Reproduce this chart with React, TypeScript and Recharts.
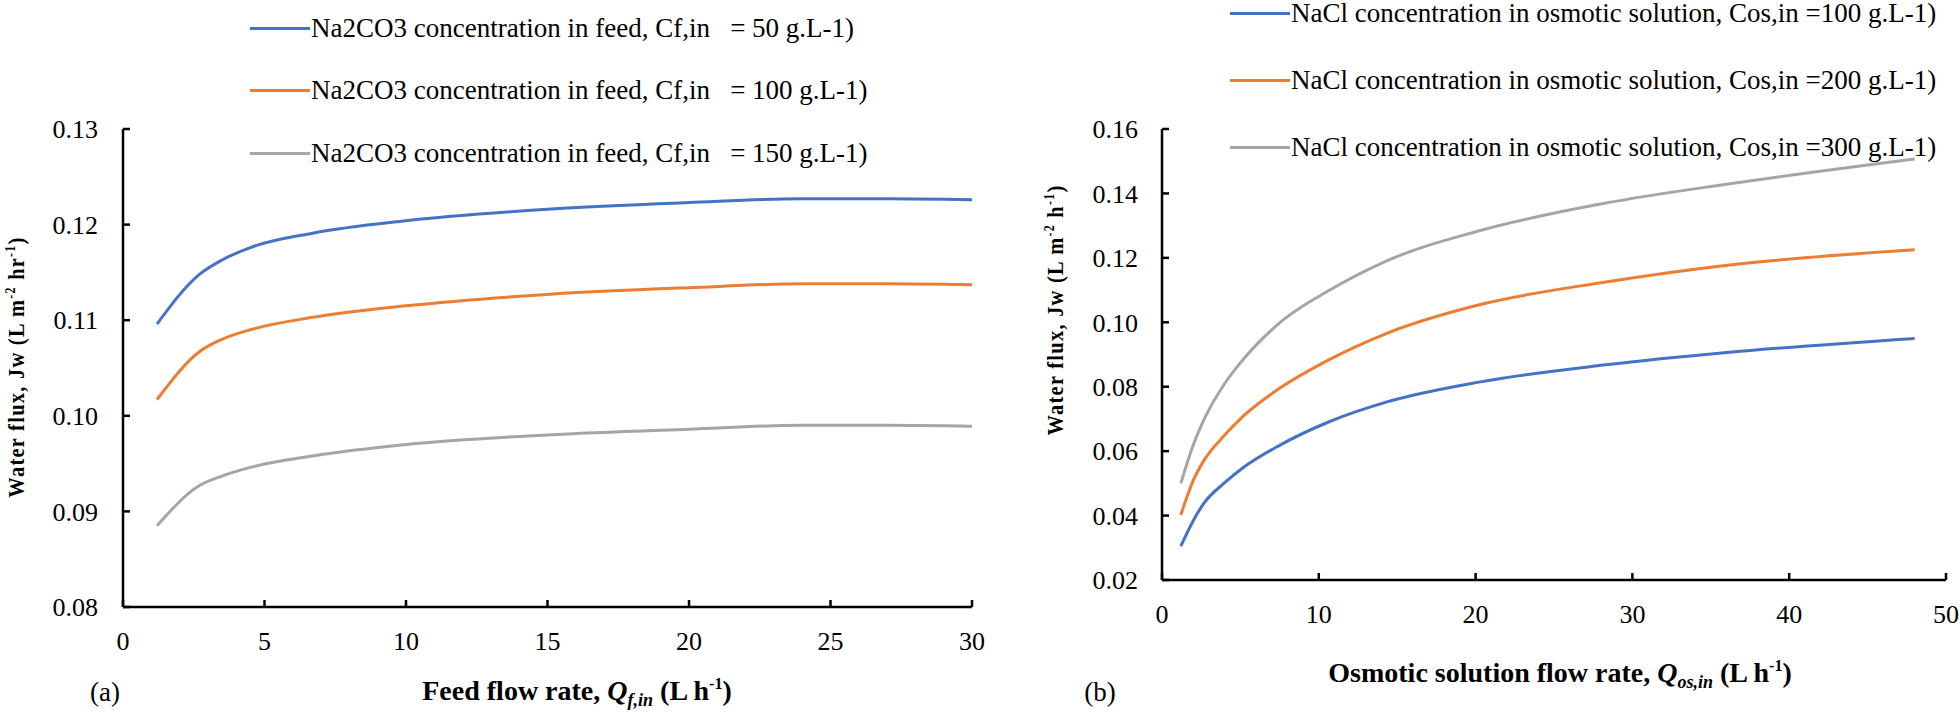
import React from "react";
import { LineChart, Line, XAxis, YAxis, Legend } from "recharts";

// (a) feed flow rate, L/h
const feedFlow = [1.2, 2.7, 3.5, 4.5, 6.7, 10, 15, 20, 24, 27, 30];
const jwFeed50 = [0.1096, 0.1148, 0.1163, 0.1176, 0.1191, 0.1204, 0.1216, 0.1223, 0.1227, 0.1227, 0.1226];
const jwFeed100 = [0.1017, 0.1067, 0.108, 0.109, 0.1103, 0.1115, 0.1127, 0.1134, 0.1138, 0.1138, 0.1137];
const jwFeed150 = [0.0885, 0.0927, 0.0937, 0.0946, 0.0958, 0.097, 0.098, 0.0986, 0.099, 0.099, 0.0989];

// (b) osmotic solution flow rate, L/h
const osFlow = [1.2, 2, 2.7, 4, 5.1, 7.5, 10.7, 14.3, 20.3, 28.3, 36.2, 48];
const jwOs100 = [0.0305, 0.0385, 0.044, 0.0502, 0.0546, 0.0618, 0.0692, 0.0752, 0.0815, 0.0868, 0.0907, 0.095];
const jwOs200 = [0.0402, 0.051, 0.0573, 0.065, 0.0705, 0.0795, 0.0885, 0.0965, 0.1055, 0.1125, 0.1178, 0.1225];
const jwOs300 = [0.05, 0.062, 0.07, 0.081, 0.088, 0.0998, 0.11, 0.119, 0.1285, 0.137, 0.143, 0.1507];

const feedTicksX = [0, 5, 10, 15, 20, 25, 30];
const feedTicksY = [0.08, 0.09, 0.1, 0.11, 0.12, 0.13];
const osTicksX = [0, 10, 20, 30, 40, 50];
const osTicksY = [0.02, 0.04, 0.06, 0.08, 0.1, 0.12, 0.14, 0.16];

const feedNames = [
  "Na2CO3 concentration in feed, Cf,in   = 50 g.L-1)",
  "Na2CO3 concentration in feed, Cf,in   = 100 g.L-1)",
  "Na2CO3 concentration in feed, Cf,in   = 150 g.L-1)",
];
const osNames = [
  "NaCl concentration in osmotic solution, Cos,in =100 g.L-1)",
  "NaCl concentration in osmotic solution, Cos,in =200 g.L-1)",
  "NaCl concentration in osmotic solution, Cos,in =300 g.L-1)",
];

const colors = ["#4472C4", "#ED7D31", "#A5A5A5"];
const FONT = "'Liberation Serif', Tinos, 'Times New Roman', 'DejaVu Serif', serif";

const feedData = feedFlow.map((q, i) => ({ q, a: jwFeed50[i], b: jwFeed100[i], c: jwFeed150[i] }));
const osData = osFlow.map((q, i) => ({ q, a: jwOs100[i], b: jwOs200[i], c: jwOs300[i] }));

const axisLine = { stroke: "#000", strokeWidth: 2.5 };
const tickStyle = { fill: "#000", fontSize: 26, fontFamily: FONT };

const makeLegend = (names: string[], rows: number[]) => (props: any) => (
  <div style={{ position: "relative", fontFamily: FONT }}>
    {(props.payload || []).map((entry: any) => {
      const i = names.indexOf(entry.value);
      return (
        <div
          key={entry.value}
          style={{
            position: "absolute",
            left: 0,
            top: rows[i] - 18,
            height: 36,
            display: "flex",
            alignItems: "center",
            whiteSpace: "pre",
          }}
        >
          <span style={{ display: "inline-block", width: 60, height: 3, background: entry.color }} />
          <span style={{ fontSize: 27, color: "#000", marginLeft: 1, fontFamily: FONT }}>{entry.value}</span>
        </div>
      );
    })}
  </div>
);

const abs = (x: number, y: number, extra: React.CSSProperties = {}): React.CSSProperties => ({
  position: "absolute",
  left: x,
  top: y,
  transform: "translate(-50%, -50%)",
  whiteSpace: "nowrap",
  fontFamily: FONT,
  color: "#000",
  ...extra,
});

// rotated axis title, squeezed along its length like the original
const yTitle = (x: number, y: number, unit: string) => (
  <div
    style={abs(x, y, {
      transform: "translate(-50%, -50%) rotate(-90deg) scaleX(0.85)",
      fontSize: 24,
      fontWeight: "bold",
      letterSpacing: 1.5,
    })}
  >
    Water flux, Jw (L m<sup style={{ fontSize: 14 }}>-2</sup> {unit}
    <sup style={{ fontSize: 14 }}>-1</sup>)
  </div>
);

export default function App() {
  return (
    <div style={{ position: "absolute", left: 0, top: 0, width: 1960, height: 712, background: "#fff", fontFamily: FONT }}>
      <div style={{ position: "absolute", left: 0, top: 0 }}>
        <LineChart width={990} height={712} data={feedData} margin={{ top: 129, right: 18, bottom: 75, left: 63 }} style={{ fontFamily: FONT }}>
          <XAxis
            dataKey="q"
            type="number"
            domain={[0, 30]}
            ticks={feedTicksX}
            interval={0}
            height={30}
            axisLine={axisLine}
            tickLine={axisLine}
            tickSize={-7}
            tickMargin={32}
            tick={tickStyle}
          />
          <YAxis
            type="number"
            domain={[0.08, 0.13]}
            ticks={feedTicksY}
            interval={0}
            width={60}
            allowDataOverflow
            axisLine={axisLine}
            tickLine={axisLine}
            tickSize={-7}
            tickMargin={32}
            tick={tickStyle}
            tickFormatter={(v: number) => v.toFixed(2)}
          />
          <Legend
            layout="horizontal"
            verticalAlign="middle"
            align="center"
            wrapperStyle={{ top: 0, left: 250, width: 720, height: 180 }}
            content={makeLegend(feedNames, [28, 90, 153])}
          />
          <Line type="monotone" dataKey="a" name={feedNames[0]} stroke={colors[0]} strokeWidth={3} dot={false} isAnimationActive={false} />
          <Line type="monotone" dataKey="b" name={feedNames[1]} stroke={colors[1]} strokeWidth={3} dot={false} isAnimationActive={false} />
          <Line type="monotone" dataKey="c" name={feedNames[2]} stroke={colors[2]} strokeWidth={3} dot={false} isAnimationActive={false} />
        </LineChart>
      </div>

      <div style={{ position: "absolute", left: 1000, top: 0 }}>
        <LineChart width={960} height={712} data={osData} margin={{ top: 129, right: 14, bottom: 102, left: 102 }} style={{ fontFamily: FONT }}>
          <XAxis
            dataKey="q"
            type="number"
            domain={[0, 50]}
            ticks={osTicksX}
            interval={0}
            height={30}
            axisLine={axisLine}
            tickLine={axisLine}
            tickSize={-7}
            tickMargin={32}
            tick={tickStyle}
          />
          <YAxis
            type="number"
            domain={[0.02, 0.16]}
            ticks={osTicksY}
            interval={0}
            width={60}
            allowDataOverflow
            axisLine={axisLine}
            tickLine={axisLine}
            tickSize={-7}
            tickMargin={31}
            tick={tickStyle}
            tickFormatter={(v: number) => v.toFixed(2)}
          />
          <Legend
            layout="horizontal"
            verticalAlign="middle"
            align="center"
            wrapperStyle={{ top: 0, left: 230, width: 730, height: 170 }}
            content={makeLegend(osNames, [13, 80, 147])}
          />
          <Line type="monotone" dataKey="a" name={osNames[0]} stroke={colors[0]} strokeWidth={3} dot={false} isAnimationActive={false} />
          <Line type="monotone" dataKey="b" name={osNames[1]} stroke={colors[1]} strokeWidth={3} dot={false} isAnimationActive={false} />
          <Line type="monotone" dataKey="c" name={osNames[2]} stroke={colors[2]} strokeWidth={3} dot={false} isAnimationActive={false} />
        </LineChart>
      </div>

      {yTitle(16, 367, "hr")}
      {yTitle(1055, 310, "h")}

      <div style={abs(577, 693, { fontSize: 28, fontWeight: "bold" })}>
        Feed flow rate, <i>Q</i>
        <sub style={{ fontSize: 18, fontStyle: "italic" }}>f,in</sub> (L h<sup style={{ fontSize: 16 }}>-1</sup>)
      </div>
      <div style={abs(1560, 675, { fontSize: 28, fontWeight: "bold" })}>
        Osmotic solution flow rate, <i>Q</i>
        <sub style={{ fontSize: 18, fontStyle: "italic" }}>os,in</sub> (L h<sup style={{ fontSize: 16 }}>-1</sup>)
      </div>
      <div style={abs(105, 692, { fontSize: 27 })}>(a)</div>
      <div style={abs(1100, 692, { fontSize: 27 })}>(b)</div>
    </div>
  );
}
